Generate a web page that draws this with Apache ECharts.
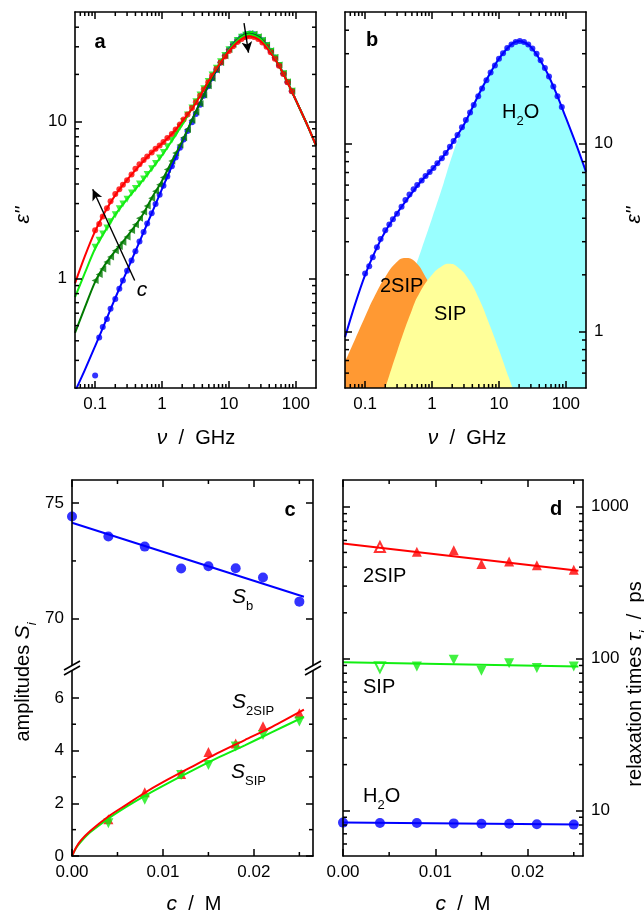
<!DOCTYPE html>
<html>
<head>
<meta charset="utf-8">
<script src="https://cdn.jsdelivr.net/npm/echarts@6/dist/echarts.min.js"></script>
<style>
  html, body { margin: 0; padding: 0; background: #fff; }
  #chart { width: 644px; height: 918px; }
</style>
</head>
<body>
<div id="chart"></div>
<script>
  /* ---- panel a / b : dielectric loss spectra (GHz, eps'') ---- */
  const freq = [0.1, 0.115, 0.13, 0.15, 0.17, 0.2, 0.23, 0.26, 0.3, 0.35,
    0.4, 0.46, 0.53, 0.6, 0.7, 0.8, 0.92, 1.05, 1.2, 1.4,
    1.6, 1.85, 2.1, 2.4, 2.8, 3.2, 3.7, 4.2, 4.9, 5.6,
    6.5, 7.5, 8.7, 10, 11.5, 13.3, 15.4, 17.8, 20.5, 23.7,
    27.4, 31.6, 36.5, 42, 48.6, 56, 65, 75, 87];
  const epsBlue = [0.24, 0.42, 0.49, 0.55, 0.64, 0.74, 0.86, 0.97, 1.12, 1.3,
    1.49, 1.72, 1.98, 2.24, 2.6, 2.98, 3.42, 3.9, 4.46, 5.2,
    5.9, 6.8, 7.7, 8.7, 9.9, 11.2, 12.8, 14.6, 16.8, 18.9,
    21.3, 23.8, 26.3, 28.8, 31.1, 33.2, 34.9, 36.0, 36.4, 36.0,
    34.8, 33.0, 30.8, 28.3, 25.6, 23.0, 20.3, 17.9, 15.7];
  const epsDarkGreen = [0.97, 1.06, 1.15, 1.27, 1.37, 1.5, 1.6, 1.7, 1.84, 2.02,
    2.2, 2.42, 2.65, 2.9, 3.25, 3.6, 3.95, 4.4, 4.95, 5.6,
    6.3, 7.1, 7.9, 8.9, 10.2, 11.5, 13.0, 14.8, 16.9, 18.9,
    21.3, 23.8, 26.3, 28.8, 31.1, 33.2, 34.9, 36.0, 36.4, 36.0,
    34.8, 33.0, 30.8, 28.3, 25.6, 23.0, 20.3, 17.9, 15.7];
  const epsLightGreen = [1.58, 1.75, 1.92, 2.1, 2.3, 2.55, 2.78, 2.98, 3.2, 3.5,
    3.75, 4.0, 4.3, 4.6, 5.0, 5.4, 5.85, 6.35, 6.9, 7.6,
    8.3, 9.2, 10.0, 11.0, 12.2, 13.4, 14.8, 16.2, 18.0, 19.8,
    21.9, 24.1, 26.4, 28.7, 30.9, 32.9, 34.5, 35.5, 35.9, 35.5,
    34.4, 32.7, 30.5, 28.0, 25.4, 22.8, 20.2, 17.8, 15.6];
  const epsRed = [2.03, 2.22, 2.48, 2.8, 3.1, 3.45, 3.7, 3.95, 4.22, 4.6,
    5.0, 5.35, 5.7, 6.0, 6.35, 6.7, 7.05, 7.4, 7.85, 8.35,
    8.9, 9.6, 10.3, 11.1, 12.2, 13.3, 14.6, 16.0, 17.8, 19.6,
    21.7, 23.8, 26.0, 28.2, 30.2, 32.2, 33.6, 34.6, 35.0, 34.6,
    33.6, 32.0, 30.0, 27.7, 25.2, 22.7, 20.1, 17.8, 15.6];

  const freqFit = [0.05, 0.07, 0.1, 0.14, 0.2, 0.3, 0.5, 0.7, 1, 1.5, 2, 3, 5, 7, 10, 15, 20, 30, 50, 70, 100, 150, 200];
  const fitBlue = [0.19, 0.26, 0.37, 0.52, 0.75, 1.12, 1.86, 2.6, 3.72, 5.55, 7.35, 10.9, 17.1, 22.4, 29.0, 34.6, 36.3, 33.8, 24.7, 19.0, 13.7, 9.4, 7.05];
  const fitDarkGreen = [0.45, 0.65, 0.95, 1.22, 1.5, 1.85, 2.5, 3.25, 4.2, 5.9, 7.5, 10.9, 17.2, 22.5, 28.8, 34.6, 36.3, 33.8, 24.7, 19.0, 13.7, 9.4, 7.05];
  const fitLightGreen = [0.76, 1.08, 1.55, 2.0, 2.55, 3.2, 4.15, 5.0, 6.1, 7.9, 9.6, 12.8, 18.2, 23.0, 28.7, 34.2, 35.9, 33.4, 24.8, 19.0, 13.7, 9.4, 7.05];
  const fitRed = [0.93, 1.38, 2.0, 2.65, 3.4, 4.25, 5.45, 6.35, 7.25, 8.6, 10.0, 12.6, 18.2, 22.8, 28.2, 33.4, 35.0, 32.6, 24.6, 18.9, 13.7, 9.4, 7.05];

  // panel b: relaxation modes of the highest concentration
  const freqH2O = [0.1, 0.14, 0.2, 0.3, 0.5, 0.7, 1, 1.5, 2, 3, 5, 7, 10, 15, 20, 30, 50, 70, 100, 150, 200];
  const modeH2O = [0.38, 0.53, 0.76, 1.15, 1.95, 2.75, 4.0, 6.2, 8.6, 12.6, 18.8, 23.6, 29.0, 34.0, 35.2, 32.8, 24.5, 18.8, 13.6, 9.3, 6.9];
  const freq2SIP = [0.05, 0.07, 0.1, 0.14, 0.2, 0.3, 0.4, 0.55, 0.8, 1.2, 1.8, 2.7, 4, 6];
  const mode2SIP = [0.69, 0.9, 1.2, 1.55, 1.95, 2.35, 2.46, 2.36, 1.95, 1.5, 1.08, 0.76, 0.53, 0.37];
  const freqSIP = [0.15, 0.2, 0.3, 0.5, 0.65, 1, 1.4, 1.8, 2.4, 3.5, 5, 7, 10, 14, 20];
  const modeSIP = [0.37, 0.5, 0.78, 1.3, 1.6, 2.0, 2.22, 2.29, 2.2, 1.9, 1.5, 1.12, 0.8, 0.57, 0.4];

  /* ---- panel c / d : fit parameters vs concentration (M) ---- */
  const conc = [0, 0.004, 0.008, 0.012, 0.015, 0.018, 0.021, 0.025];
  const ampB = [74.42, 73.56, 73.12, 72.17, 72.27, 72.18, 71.78, 70.74];
  const amp2SIP = [null, 1.39, 2.42, 3.11, 3.95, 4.27, 4.92, 5.42];
  const ampSIP = [null, 1.24, 2.13, 3.07, 3.45, 4.15, 4.59, 5.10];
  const concFitB = [0, 0.0255];
  const fitAmpB = [74.15, 70.95];
  const concFitS = [0, 0.0005, 0.001, 0.002, 0.004, 0.006, 0.008, 0.01, 0.013, 0.016, 0.019, 0.022, 0.0255];
  const fitAmp2SIP = [0, 0.35, 0.6, 0.95, 1.5, 1.95, 2.4, 2.8, 3.35, 3.9, 4.4, 4.9, 5.55];
  const fitAmpSIP = [0, 0.33, 0.55, 0.9, 1.42, 1.87, 2.28, 2.66, 3.2, 3.72, 4.2, 4.7, 5.28];

  const tau2SIP = [null, 543, 506, 517, 419, 436, 412, 384];
  const tauSIP = [null, 87.6, 88.5, 98, 83.2, 93, 86.7, 88.5];
  const tauH2O = [8.3, 8.25, 8.25, 8.2, 8.15, 8.15, 8.1, 8.05];
  const tauHollow = [0, 1, 0, 0, 0, 0, 0, 0];
  const concFitT = [0, 0.0255];
  const fitTau2SIP = [572, 378];
  const fitTauSIP = [94.4, 88.5];
  const fitTauH2O = [8.3, 8.05];

  /* ---- tick labels ---- */
  const freqTicks = [0.1, 1, 10, 100];
  const epsTicks = [1, 10];
  const concTicks = [0, 0.01, 0.02];
  const concMinor = [0.005, 0.015, 0.025];
  const ampTicksHigh = [70, 75];
  const ampMinorHigh = [72.5];
  const ampTicksLow = [0, 2, 4, 6];
  const ampMinorLow = [1, 3, 5];
  const tauTicks = [10, 100, 1000];

  const arrowC = [[0.39, 0.97], [0.092, 3.7]];
  const arrowPeak = [[16.8, 42.5], [19.6, 27.5]];

  const FONT = '"Liberation Sans", Arial, Helvetica, sans-serif';
  const BLACK = '#000';
  const BLUE = '#0000ff', RED = '#ff0000', LIME = '#11ee11', DGREEN = '#007a00';

  /*log minor ticks 2..9 per decade*/
  function minorLog(min, max) {
    let out = [];
    for (let k = -3; k <= 4; k++) {
      for (let m = 2; m <= 9; m++) {
        let v = +(m * Math.pow(10, k)).toPrecision(6);
        if (v > min && v < max) out.push(v);
      }
    }
    return out;
  }

  function fmtLog(v) { return String(+(+v).toPrecision(3)); }
  function fmtConc(v) { return (+v).toFixed(2); }

  let xAxes = [], yAxes = [];

  /*one axis per box side, labels only on the first one*/
  function addAxes(list, gridIndex, scale, sides, major, labelSide, formatter) {
    let first = list.length;
    sides.forEach(function (side) {
      let withLabel = side === labelSide;
      list.push(Object.assign({
        gridIndex: gridIndex,
        position: side,
        z: 10,
        axisLine: {show: true, onZero: false, lineStyle: {color: BLACK, width: 1.6}},
        axisTick: {show: true, inside: true, length: 7, customValues: major, lineStyle: {color: BLACK, width: 1.5}},
        axisLabel: withLabel ? {
          show: true, customValues: major, color: BLACK, fontSize: 17, fontFamily: FONT,
          margin: 8, formatter: formatter
        } : {show: false},
        splitLine: {show: false},
        axisPointer: {show: false}
      }, scale));
    });
    return first;
  }

  const logFreq = {type: 'log', logBase: 10, min: 0.05, max: 200};
  const freqMinor = minorLog(0.05, 200);

  // panel a
  const aX = addAxes(xAxes, 0, logFreq, ['bottom', 'top'], freqTicks, 'bottom', fmtLog);
  const aY = addAxes(yAxes, 0, {type: 'log', logBase: 10, min: 0.2, max: 50}, ['left', 'right'], epsTicks, 'left', fmtLog);
  // panel b
  const bX = addAxes(xAxes, 1, logFreq, ['bottom', 'top'], freqTicks, 'bottom', fmtLog);
  const bY = addAxes(yAxes, 1, {type: 'log', logBase: 10, min: 0.5, max: 50}, ['right', 'left'], epsTicks, 'right', fmtLog);
  // panel c, upper part (S_b)
  const cuX = addAxes(xAxes, 2, {type: 'value', min: 0, max: 0.0265}, ['top'], concTicks, null, fmtConc);
  const cuY = addAxes(yAxes, 2, {type: 'value', min: 68, max: 76}, ['left', 'right'], ampTicksHigh, 'left', null);
  // panel c, lower part (ion pairs)
  const clX = addAxes(xAxes, 3, {type: 'value', min: 0, max: 0.0265}, ['bottom'], concTicks, 'bottom', fmtConc);
  const clY = addAxes(yAxes, 3, {type: 'value', min: 0, max: 7}, ['left', 'right'], ampTicksLow, 'left', null);
  // panel d
  const dX = addAxes(xAxes, 4, {type: 'value', min: 0, max: 0.026}, ['bottom', 'top'], concTicks, 'bottom', fmtConc);
  const dY = addAxes(yAxes, 4, {type: 'log', logBase: 10, min: 5, max: 1500}, ['right', 'left'], tauTicks, 'right', fmtLog);

  /*short inside ticks drawn through the axes' own scales*/
  function minorTicks(xi, yi, xVals, yVals, xRef, yRef, xSides, ySides) {
    let data = [];
    xVals.forEach(function (v) { data.push([v, yRef, 0]); });
    yVals.forEach(function (v) { data.push([xRef, v, 1]); });
    return {
      type: 'custom', xAxisIndex: xi, yAxisIndex: yi, data: data,
      encode: {x: 0, y: 1}, silent: true, z: 11, clip: false,
      renderItem: function (params, api) {
        let cs = params.coordSys;
        let p = api.coord([api.value(0), api.value(1)]);
        let style = {stroke: BLACK, lineWidth: 1.5};
        let len = 4, lines = [];
        if (api.value(2) === 0) {
          if (xSides.indexOf('bottom') >= 0) lines.push({type: 'line', shape: {x1: p[0], y1: cs.y + cs.height, x2: p[0], y2: cs.y + cs.height - len}, style: style});
          if (xSides.indexOf('top') >= 0) lines.push({type: 'line', shape: {x1: p[0], y1: cs.y, x2: p[0], y2: cs.y + len}, style: style});
        } else {
          if (ySides.indexOf('left') >= 0) lines.push({type: 'line', shape: {x1: cs.x, y1: p[1], x2: cs.x + len, y2: p[1]}, style: style});
          if (ySides.indexOf('right') >= 0) lines.push({type: 'line', shape: {x1: cs.x + cs.width, y1: p[1], x2: cs.x + cs.width - len, y2: p[1]}, style: style});
        }
        return {type: 'group', children: lines};
      }
    };
  }

  function pairs(xs, ys) {
    let out = [];
    xs.forEach(function (x, i) {
      if (ys[i] !== null && ys[i] !== undefined) out.push([x, ys[i]]);
    });
    return out;
  }

  function dots(xi, yi, data, color, symbol, size, rotate) {
    return {
      type: 'scatter', xAxisIndex: xi, yAxisIndex: yi, data: data,
      symbol: symbol, symbolSize: size, symbolRotate: rotate || 0,
      itemStyle: {color: color, borderWidth: 1.5}, silent: true, z: 3
    };
  }

  function fit(xi, yi, data, color, smooth) {
    return {
      type: 'line', xAxisIndex: xi, yAxisIndex: yi, data: data,
      showSymbol: false, smooth: smooth, lineStyle: {color: color, width: 2},
      itemStyle: {color: color}, silent: true, z: 4
    };
  }

  function mode(xi, yi, data, color) {
    return {
      type: 'line', xAxisIndex: xi, yAxisIndex: yi, data: data,
      showSymbol: false, smooth: true, lineStyle: {width: 0},
      areaStyle: {color: color, opacity: 1, origin: 'start'}, silent: true, z: 1
    };
  }

  function hollow(xs, ys) {
    let out = [];
    xs.forEach(function (x, i) {
      if (ys[i] === null) return;
      out.push(tauHollow[i] ? {value: [x, ys[i]], symbol: 'emptyTriangle'} : [x, ys[i]]);
    });
    return out;
  }

  let redFit = fit(aX, aY, pairs(freqFit, fitRed), RED, 0.3);
  redFit.markLine = {
    silent: true, symbol: ['none', 'arrow'], symbolSize: [8, 11],
    label: {show: false},
    lineStyle: {color: BLACK, width: 1.4, type: 'solid'},
    data: [
      [{coord: arrowC[0]}, {coord: arrowC[1]}],
      [{coord: arrowPeak[0]}, {coord: arrowPeak[1]}]
    ]
  };

  const series = [
    // a
    dots(aX, aY, pairs(freq, epsBlue), BLUE, 'circle', 6),
    fit(aX, aY, pairs(freqFit, fitBlue), BLUE, 0.3),
    dots(aX, aY, pairs(freq, epsDarkGreen), DGREEN, 'triangle', 7, 90),
    fit(aX, aY, pairs(freqFit, fitDarkGreen), DGREEN, 0.3),
    dots(aX, aY, pairs(freq, epsLightGreen), LIME, 'triangle', 7, 180),
    fit(aX, aY, pairs(freqFit, fitLightGreen), LIME, 0.3),
    dots(aX, aY, pairs(freq, epsRed), RED, 'circle', 6),
    redFit,
    minorTicks(aX, aY, freqMinor, minorLog(0.2, 50), 0.05, 0.2, ['bottom', 'top'], ['left', 'right']),
    // b
    mode(bX, bY, pairs(freqH2O, modeH2O), '#99ffff'),
    mode(bX, bY, pairs(freq2SIP, mode2SIP), '#ff9933'),
    mode(bX, bY, pairs(freqSIP, modeSIP), '#ffff99'),
    dots(bX, bY, pairs(freq, epsRed), BLUE, 'circle', 6),
    fit(bX, bY, pairs(freqFit, fitRed), BLUE, 0.3),
    minorTicks(bX, bY, freqMinor, minorLog(0.5, 50), 0.05, 0.5, ['bottom', 'top'], ['left', 'right']),
    // c
    fit(cuX, cuY, pairs(concFitB, fitAmpB), BLUE, false),
    dots(cuX, cuY, pairs(conc, ampB), BLUE, 'circle', 10),
    minorTicks(cuX, cuY, concMinor, ampMinorHigh, 0, 68, ['top'], ['left', 'right']),
    fit(clX, clY, pairs(concFitS, fitAmpSIP), LIME, 0.3),
    fit(clX, clY, pairs(concFitS, fitAmp2SIP), RED, 0.3),
    dots(clX, clY, pairs(conc, amp2SIP), RED, 'triangle', 10),
    dots(clX, clY, pairs(conc, ampSIP), LIME, 'triangle', 10, 180),
    minorTicks(clX, clY, concMinor, ampMinorLow, 0, 0, ['bottom'], ['left', 'right']),
    // d
    fit(dX, dY, pairs(concFitT, fitTau2SIP), RED, false),
    dots(dX, dY, hollow(conc, tau2SIP), RED, 'triangle', 10),
    fit(dX, dY, pairs(concFitT, fitTauSIP), LIME, false),
    dots(dX, dY, hollow(conc, tauSIP), LIME, 'triangle', 10, 180),
    fit(dX, dY, pairs(concFitT, fitTauH2O), BLUE, false),
    dots(dX, dY, pairs(conc, tauH2O), BLUE, 'circle', 10),
    minorTicks(dX, dY, concMinor, minorLog(5, 1500), 0, 5, ['bottom', 'top'], ['left', 'right'])
  ];

  /*rich text styles for the annotations*/
  const RICH = {
    n: {fontSize: 20, fontFamily: FONT, fill: BLACK, color: BLACK, lineHeight: 22, verticalAlign: 'top'},
    it: {fontSize: 21, fontFamily: FONT, fontStyle: 'italic', fill: BLACK, color: BLACK, lineHeight: 22, verticalAlign: 'top'},
    s: {fontSize: 13, fontFamily: FONT, fill: BLACK, color: BLACK, lineHeight: 13, verticalAlign: 'top', padding: [13, 0, 0, 0]},
    si: {fontSize: 13, fontFamily: FONT, fontStyle: 'italic', fill: BLACK, color: BLACK, lineHeight: 13, verticalAlign: 'top', padding: [13, 0, 0, 0]},
    bold: {fontSize: 20, fontFamily: FONT, fontWeight: 'bold', fill: BLACK, color: BLACK}
  };

  function txt(x, y, text, align, rotation) {
    return {
      type: 'text', x: x, y: y, rotation: rotation || 0, silent: true, z: 20,
      style: {text: text, rich: RICH, align: align || 'left', verticalAlign: 'middle', fill: BLACK, fontFamily: FONT, fontSize: 20}
    };
  }

  function slash(x, y) {
    return [
      {type: 'line', silent: true, z: 20, shape: {x1: x - 8, y1: y + 4, x2: x + 8, y2: y - 5}, style: {stroke: BLACK, lineWidth: 1.6}},
      {type: 'line', silent: true, z: 20, shape: {x1: x - 8, y1: y + 9, x2: x + 8, y2: y}, style: {stroke: BLACK, lineWidth: 1.6}}
    ];
  }

  const graphics = [
    txt(100, 42, '{bold|a}', 'center'),
    txt(372, 40, '{bold|b}', 'center'),
    txt(290, 510, '{bold|c}', 'center'),
    txt(556, 509, '{bold|d}', 'center'),
    txt(142, 291, '{it|c}', 'center'),
    // axis titles
    txt(196, 439, '{it|ν}{n|  /  GHz}', 'center'),
    txt(467, 439, '{it|ν}{n|  /  GHz}', 'center'),
    txt(194, 905, '{it|c}{n|  /  M}', 'center'),
    txt(463, 905, '{it|c}{n|  /  M}', 'center'),
    txt(24, 215, "{it|ε''}", 'center', Math.PI / 2),
    txt(635, 215, "{it|ε''}", 'center', Math.PI / 2),
    txt(24, 682, '{n|amplitudes }{it|S}{si|i}', 'center', Math.PI / 2),
    txt(636, 684, '{n|relaxation times }{it|τ}{si|i}{n|  /  ps}', 'center', Math.PI / 2),
    // panel b
    txt(502, 113, '{n|H}{s|2}{n|O}', 'left'),
    txt(380, 287, '{n|2SIP}', 'left'),
    txt(434, 315, '{n|SIP}', 'left'),
    // panel c
    txt(232, 598, '{it|S}{s|b}', 'left'),
    txt(232, 703, '{it|S}{s|2SIP}', 'left'),
    txt(231, 773, '{it|S}{s|SIP}', 'left'),
    // panel d
    txt(363, 577, '{n|2SIP}', 'left'),
    txt(363, 688, '{n|SIP}', 'left'),
    txt(363, 797, '{n|H}{s|2}{n|O}', 'left')
  ].concat(slash(72, 666), slash(313, 666));

  const gridBase = {containLabel: false, outerBoundsMode: 'none', show: false};
  const option = {
    animation: false,
    backgroundColor: '#fff',
    grid: [
      Object.assign({left: 75, top: 12, width: 241, height: 376}, gridBase),
      Object.assign({left: 345, top: 12, width: 241, height: 376}, gridBase),
      Object.assign({left: 72, top: 480, width: 241, height: 185}, gridBase),
      Object.assign({left: 72, top: 671.5, width: 241, height: 184.5}, gridBase),
      Object.assign({left: 343, top: 480, width: 240, height: 376}, gridBase)
    ],
    xAxis: xAxes,
    yAxis: yAxes,
    series: series,
    graphic: graphics
  };

  let chart = echarts.init(document.getElementById('chart'), null, {renderer: 'canvas'});
  chart.setOption(option);
</script>
</body>
</html>
